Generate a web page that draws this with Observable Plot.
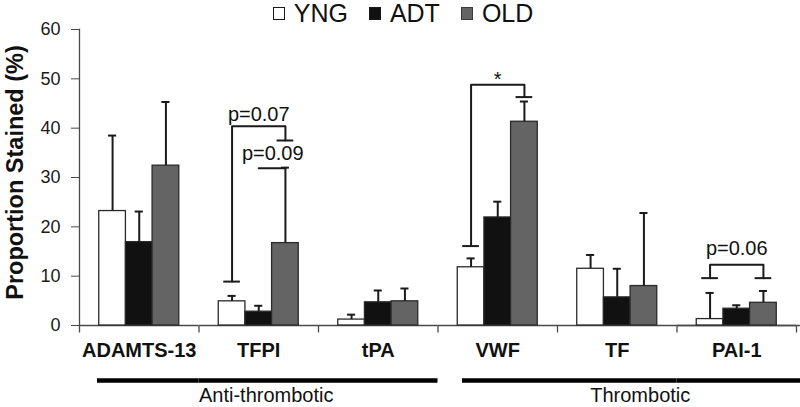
<!DOCTYPE html>
<html>
<head>
<meta charset="utf-8">
<script src="https://cdn.jsdelivr.net/npm/d3@7"></script>
<script src="https://cdn.jsdelivr.net/npm/@observablehq/plot@0.6"></script>
<style>
html, body { margin: 0; padding: 0; background: #fff; }
body { width: 800px; height: 407px; overflow: hidden; font-family: "Liberation Sans", Arial, sans-serif; }
#legend { height: 26px; display: flex; justify-content: center; align-items: center; font-size: 25px; line-height: 26px; color: #111; padding-left: 6px; }
#legend .item { display: flex; align-items: center; margin: 0 10.5px; }
#legend .sw { width: 12px; height: 13px; box-sizing: border-box; margin-right: 9px; border: 1.5px solid #222; }
</style>
</head>
<body>
<div id="legend"></div>
<div id="chart"></div>
<script>
// ---- data ----
const categories = ["ADAMTS-13", "TFPI", "tPA", "VWF", "TF", "PAI-1"];
const categoryClass = ["Anti-thrombotic", "Anti-thrombotic", "Anti-thrombotic", "Thrombotic", "Thrombotic", "Thrombotic"];
const groups = ["YNG", "ADT", "OLD"];
const groupColors = ["#ffffff", "#111111", "#646464"];
const yngMean = [23.2, 4.9, 1.2, 11.8, 11.5, 1.3];
const yngSD   = [15.3, 1.1, 1.0, 1.8, 2.8, 5.3];
const adtMean = [16.9, 2.8, 4.7, 21.9, 5.7, 3.4];
const adtSD   = [6.2, 1.2, 2.4, 3.2, 5.8, 0.7];
const oldMean = [32.4, 16.7, 4.9, 41.3, 8.0, 4.6];
const oldSD   = [12.9, 15.3, 2.6, 4.1, 14.8, 2.4];
const yTicks = [0, 10, 20, 30, 40, 50, 60];
const yLabel = "Proportion Stained (%)";

// significance brackets (value levels)
const bracketCat    = ["TFPI", "VWF", "PAI-1", "TFPI"];
const bracketFrom   = ["YNG", "YNG", "YNG", "ADT"];
const bracketTo     = ["OLD", "OLD", "OLD", "OLD"];
const bracketLeft   = [8.9, 16.1, 9.6, 31.9];
const bracketTop    = [40.4, 48.8, 12.3, 31.9];
const bracketRight  = [37.5, 46.3, 9.6, 31.9];
const bracketCapped = [true, true, true, false];

// annotation labels
const annoCat   = ["TFPI", "TFPI", "VWF", "PAI-1"];
const annoGroup = ["ADT", "ADT", "ADT", "ADT"];
const annoY     = [42.65, 34.75, 49.9, 15.63];
const annoText  = ["p=0.07", "p=0.09", "*", "p=0.06"];

// ---- derived tables ----
const means = [yngMean, adtMean, oldMean];
const sds = [yngSD, adtSD, oldSD];
const rows = categories.flatMap((category, i) =>
  groups.map((group, j) => ({category, group, mean: means[j][i], top: means[j][i] + sds[j][i]})));

const bracketPath = bracketCat.flatMap((category, k) => [
  {k, category, group: bracketFrom[k], y: bracketLeft[k]},
  {k, category, group: bracketFrom[k], y: bracketTop[k]},
  {k, category, group: bracketTo[k], y: bracketTop[k]},
  {k, category, group: bracketTo[k], y: bracketRight[k]}
]);
const bracketEnds = bracketCat.flatMap((category, k) => bracketCapped[k] ? [
  {category, group: bracketFrom[k], y: bracketLeft[k]},
  {category, group: bracketTo[k], y: bracketRight[k]}
] : []);
const annos = annoCat.map((category, i) => ({category, group: annoGroup[i], y: annoY[i], text: annoText[i]}));

const classNames = [...new Set(categoryClass)];
const lastCategory = categories[categories.length - 1];
const classStarts = categories.filter((c, i) => i === 0 || categoryClass[i] !== categoryClass[i - 1]);
const classRest = categories.filter(c => !classStarts.includes(c) && c !== lastCategory);
const classMid = classNames.map(n => {
  const cs = categories.filter((c, i) => categoryClass[i] === n);
  return cs[Math.floor(cs.length / 2)];
});

// ---- legend ----
const legend = d3.select("#legend");
groups.forEach((g, i) => {
  const it = legend.append("div").attr("class", "item");
  it.append("div").attr("class", "sw").style("background", groupColors[i])
    .style("border-color", i === 2 ? "#3a3a3a" : "#1a1a1a");
  it.append("span").text(g);
});

// ---- chart ----
const ink = "#1a1a1a";
const axisInk = "#4a4a4a";
const downTick = {draw(ctx) { ctx.moveTo(0, 0); ctx.lineTo(0, 7); }};
const classLine = {y: () => 0, dy: 55, stroke: "#000", strokeWidth: 4.3};
const classText = {text: d => d, frameAnchor: "bottom", lineAnchor: "top", dy: 62.5, fontSize: 20, fill: "#111"};

const chart = Plot.plot({
  width: 800,
  height: 381,
  marginTop: 3,
  marginBottom: 82,
  marginLeft: 79,
  marginRight: 4,
  style: {overflow: "visible", fontFamily: "'Liberation Sans', Arial, sans-serif", color: "#1a1a1a", background: "transparent"},
  fx: {domain: categories, paddingInner: 0, paddingOuter: 0, round: false, axis: null, label: null},
  x: {domain: groups, paddingInner: 0, paddingOuter: 0.74, round: false, axis: null, label: null},
  y: {domain: [0, 60], label: null},
  color: {domain: groups, range: groupColors},
  marks: [
    // y axis
    Plot.axisY({ticks: yTicks, tickSize: 8, tickPadding: 11, fontSize: 18, stroke: axisInk, label: null}),
    Plot.frame({anchor: "left", facetAnchor: "left", stroke: axisInk, strokeWidth: 1.3}),
    // x axis line and category boundary ticks
    Plot.ruleY([0], {stroke: axisInk, strokeWidth: 1.3}),
    Plot.ruleY([0], {fx: () => lastCategory, stroke: axisInk, strokeWidth: 1.3, insetRight: -5}),
    Plot.dot(categories, {fx: d => d, frameAnchor: "bottom-left", symbol: downTick, r: 4, stroke: axisInk, strokeWidth: 1.3}),
    Plot.dot([lastCategory], {fx: d => d, frameAnchor: "bottom-right", symbol: downTick, r: 4, stroke: axisInk, strokeWidth: 1.3}),
    // bars
    Plot.barY(rows, {fx: "category", x: "group", y: "mean", fill: "group", stroke: "#2a2a2a", strokeWidth: 1.3}),
    // error bars (upper)
    Plot.ruleX(rows, {fx: "category", x: "group", y1: "mean", y2: "top", stroke: ink, strokeWidth: 2}),
    Plot.tickY(rows, {fx: "category", x: "group", y: "top", stroke: ink, strokeWidth: 2, insetLeft: 9.3, insetRight: 9.3}),
    // significance brackets
    Plot.line(bracketPath, {fx: "category", x: "group", y: "y", z: "k", stroke: ink, strokeWidth: 2, curve: "linear"}),
    Plot.tickY(bracketEnds, {fx: "category", x: "group", y: "y", stroke: ink, strokeWidth: 2, insetLeft: 5, insetRight: 5}),
    Plot.text(annos.filter((d, i) => i !== 1), {fx: "category", x: "group", y: "y", text: "text", fontSize: 20, fill: "#111", lineAnchor: "middle"}),
    Plot.text(annos.filter((d, i) => i === 1), {fx: "category", x: "group", y: "y", text: "text", fontSize: 20, fill: "#111", lineAnchor: "middle", dx: 14}),
    // category labels
    Plot.text(categories, {fx: d => d, text: d => d, frameAnchor: "bottom", lineAnchor: "top", dy: 17.5, fontSize: 20, fontWeight: "bold", fill: "#111"}),
    // class lines and labels
    Plot.ruleY([classStarts[0]], {fx: d => d, ...classLine, insetLeft: 18, insetRight: 0}),
    Plot.ruleY(classStarts.slice(1), {fx: d => d, ...classLine, insetLeft: 24.5}),
    Plot.ruleY(classRest, {fx: d => d, ...classLine}),
    Plot.ruleY([lastCategory], {fx: d => d, ...classLine, insetRight: -5}),
    Plot.text([classNames[0]], {fx: () => classMid[0], ...classText, dx: 7.5}),
    Plot.text([classNames[1]], {fx: () => classMid[1], ...classText, dx: 23}),
    // y label
    Plot.text([yLabel], {fx: () => categories[0], text: d => d, frameAnchor: "left", textAnchor: "middle", rotate: -90, dx: -64.5, dy: -5, fontSize: 23.5, fontWeight: "bold", fill: "#111"})
  ]
});
document.getElementById("chart").appendChild(chart);
</script>
</body>
</html>
